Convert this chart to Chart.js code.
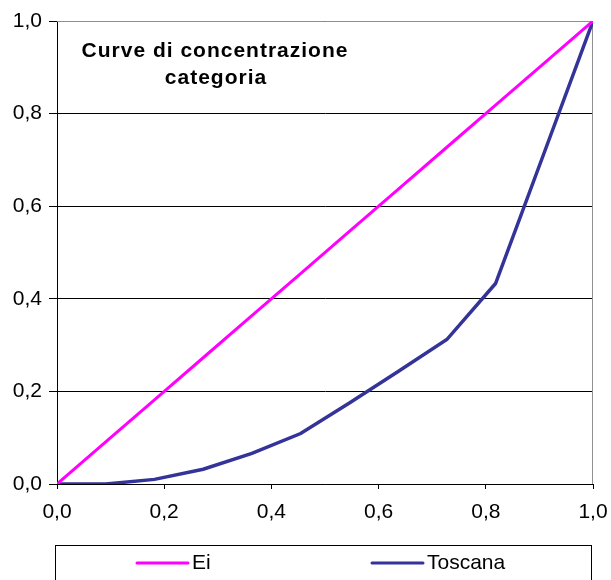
<!DOCTYPE html>
<html>
<head>
<meta charset="utf-8">
<script src="https://cdn.jsdelivr.net/npm/chart.js@4/dist/chart.umd.min.js"></script>
<style>
  html, body { margin: 0; padding: 0; background: #fff; }
  canvas { display: block; }
</style>
</head>
<body>
<canvas id="chart-concentrazione" width="611" height="580"></canvas>
<script>
// quote cumulate (asse x) e valori delle due curve
var quoteX = [0, 0.0909, 0.1818, 0.2727, 0.3636, 0.4545, 0.5455, 0.6364, 0.7273, 0.8182, 0.9091, 1];
var valoriEi = [0, 0.0909, 0.1818, 0.2727, 0.3636, 0.4545, 0.5455, 0.6364, 0.7273, 0.8182, 0.9091, 1];
var valoriToscana = [0, 0, 0.01, 0.032, 0.066, 0.109, 0.175, 0.243, 0.312, 0.433, 0.716, 1];
var nomiSerie = ["Ei", "Toscana"];
var coloriSerie = ["#FF00FF", "#333399"];
var titoloRighe = ["Curve di concentrazione", "categoria"];

var FONT = "'Liberation Sans', Arial, sans-serif";

const toPoints = (xs, ys) => xs.map((x, i) => ({ x: x, y: ys[i] }));

const formatVirgola = (value) => value.toFixed(1).replace(".", ",");

// bordo grigio, titolo e legenda in riquadro
var decorazioni = {
  id: "decorazioni",
  beforeDatasetsDraw(chart) {
    var ctx = chart.ctx;
    var a = chart.chartArea;
    ctx.save();
    ctx.strokeStyle = "#909090";
    ctx.lineWidth = 1;
    ctx.beginPath();
    ctx.moveTo(a.left, a.top + 0.5);
    ctx.lineTo(a.right - 0.5, a.top + 0.5);
    ctx.lineTo(a.right - 0.5, a.bottom);
    ctx.stroke();
    ctx.restore();
  },
  afterDraw(chart) {
    var ctx = chart.ctx;
    ctx.save();

    ctx.fillStyle = "#000";
    ctx.font = "bold 21px " + FONT;
    ctx.letterSpacing = "1px";
    ctx.textAlign = "center";
    ctx.textBaseline = "middle";
    ctx.fillText(titoloRighe[0], 215, 51);
    ctx.fillText(titoloRighe[1], 216, 78);
    ctx.letterSpacing = "0px";

    ctx.strokeStyle = "#000";
    ctx.lineWidth = 1;
    ctx.strokeRect(55.5, 545.5, 536, 36);

    var posizioni = [[137, 188], [372, 423]];
    ctx.font = "21px " + FONT;
    ctx.textAlign = "left";
    chart.data.datasets.forEach(function (ds, i) {
      var p = posizioni[i];
      ctx.strokeStyle = ds.borderColor;
      ctx.lineWidth = 3;
      ctx.lineCap = "round";
      ctx.beginPath();
      ctx.moveTo(p[0], 563);
      ctx.lineTo(p[1], 563);
      ctx.stroke();
      ctx.fillStyle = "#000";
      ctx.fillText(ds.label, p[1] + 4, 563);
    });
    ctx.restore();
  }
};

function createChartConcentrazione() {
  var ctx = document.getElementById("chart-concentrazione").getContext("2d");

  new Chart(ctx, {
    type: "scatter",
    data: {
      datasets: [
        {
          label: nomiSerie[0],
          data: toPoints(quoteX, valoriEi),
          borderColor: coloriSerie[0],
          borderWidth: 3,
          showLine: true,
          pointRadius: 0,
          tension: 0,
        },
        {
          label: nomiSerie[1],
          data: toPoints(quoteX, valoriToscana),
          borderColor: coloriSerie[1],
          borderWidth: 3.5,
          showLine: true,
          pointRadius: 0,
          tension: 0,
        },
      ],
    },
    options: {
      responsive: false,
      animation: false,
      layout: {
        padding: { top: 21, right: 18, left: 0, bottom: 0 },
      },
      plugins: {
        legend: { display: false },
        tooltip: { enabled: false },
      },
      scales: {
        x: {
          type: "linear",
          min: 0,
          max: 1,
          afterFit: (scale) => {
            scale.height = 96;
            scale.paddingLeft = 0;
            scale.paddingRight = 0;
          },
          ticks: {
            stepSize: 0.2,
            color: "#000",
            font: { family: FONT, size: 21 },
            padding: 11,
            maxRotation: 0,
            callback: (v) => formatVirgola(v),
          },
          grid: {
            drawOnChartArea: false,
            drawTicks: true,
            tickLength: 5,
            color: "#000",
          },
          border: { color: "#000", width: 1 },
        },
        y: {
          min: 0,
          max: 1,
          afterFit: (scale) => { scale.width = 57; },
          ticks: {
            stepSize: 0.2,
            color: "#000",
            font: { family: FONT, size: 21 },
            padding: 7,
            callback: (v) => formatVirgola(v),
          },
          grid: {
            color: "#000",
            lineWidth: 1,
            tickLength: 8,
          },
          border: { color: "#000", width: 1 },
        },
      },
    },
    plugins: [decorazioni],
  });
}

createChartConcentrazione();
</script>
</body>
</html>
